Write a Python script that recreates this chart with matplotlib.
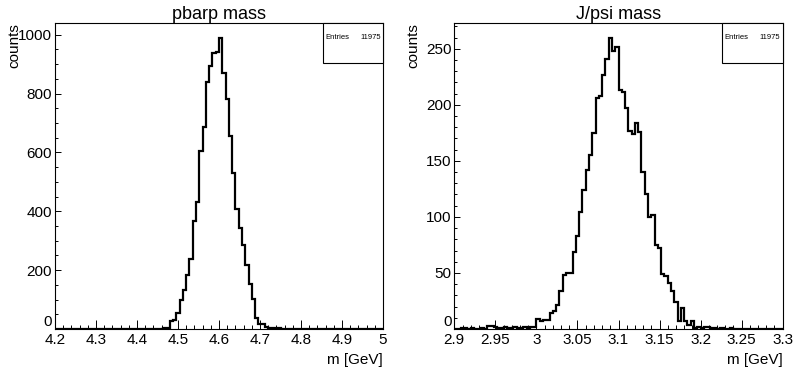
# coding=utf-8
'''
   pbarp / J/psi mass histograms (ROOT style)
'''
import matplotlib.pyplot as plt
import numpy as np
from matplotlib.ticker import MultipleLocator, FormatStrFormatter
from matplotlib.patches import Rectangle

# histogram data: 100 bins each
pbarp_range = (4.2, 5.0)
pbarp_counts = [
    0, 0, 0, 0, 0, 0, 0, 0, 0, 0,
    0, 0, 0, 0, 0, 0, 0, 0, 0, 0,
    0, 0, 0, 0, 0, 0, 0, 0, 0, 0,
    0, 1, 1, 2, 3, 27, 30, 56, 98, 132,
    185, 239, 366, 430, 605, 686, 839, 895, 937, 940,
    990, 869, 781, 655, 531, 408, 343, 284, 219, 153,
    101, 36, 16, 16, 8, 3, 2, 1, 2, 1,
    0, 1, 0, 0, 0, 0, 0, 0, 0, 0,
    0, 0, 0, 0, 0, 0, 0, 0, 0, 0,
    0, 0, 0, 0, 0, 0, 0, 0, 0, 0,
]

jpsi_range = (2.9, 3.3)
jpsi_counts = [
    0, 0, 1, 1, 0, 1, 0, 0, 1, 0,
    3, 3, 2, 1, 1, 2, 1, 1, 2, 1,
    1, 2, 1, 2, 2, 9, 7, 8, 8, 14,
    16, 21, 34, 48, 50, 50, 69, 83, 104, 124,
    142, 155, 175, 206, 208, 227, 241, 260, 248, 252,
    213, 211, 197, 177, 174, 184, 176, 140, 120, 100,
    102, 75, 72, 49, 47, 41, 34, 24, 7, 19,
    7, 4, 7, 1, 2, 1, 2, 2, 1, 1,
    0, 1, 0, 0, 1, 0, 0, 0, 0, 0,
    0, 0, 0, 0, 0, 0, 0, 0, 0, 0,
]

titles = ['pbarp mass', 'J/psi mass']
entries = 11975

plt.rcParams['font.family'] = ['Liberation Sans', 'DejaVu Sans']

fig = plt.figure(figsize=(7.98, 3.76), dpi=100)
ax1 = fig.add_axes([55 / 798, 47 / 376, 328 / 798, 306 / 376])
ax2 = fig.add_axes([454.3 / 798, 47 / 376, 328.4 / 798, 306 / 376])

setup = [
    (ax1, pbarp_counts, pbarp_range, 0.1, 0.02, 200, 50, 1040),
    (ax2, jpsi_counts, jpsi_range, 0.05, 0.01, 50, 10, 273),
]

for i, (ax, counts, rng, xmaj, xmin, ymaj, ymin, ytop) in enumerate(setup):
    edges = np.linspace(rng[0], rng[1], len(counts) + 1)
    ax.stairs(counts, edges, color='black', linewidth=1.6)
    ax.set_xlim(rng)
    ax.set_ylim(0, ytop)

    ax.xaxis.set_major_locator(MultipleLocator(xmaj))
    ax.xaxis.set_minor_locator(MultipleLocator(xmin))
    ax.yaxis.set_major_locator(MultipleLocator(ymaj))
    ax.yaxis.set_minor_locator(MultipleLocator(ymin))
    ax.xaxis.set_major_formatter(FormatStrFormatter('%g'))

    # ROOT style: ticks inside, only on bottom/left
    ax.tick_params(axis='x', which='major', direction='in', length=6.5, width=0.7,
                   labelsize=11, pad=3, top=False)
    ax.tick_params(axis='x', which='minor', direction='in', length=3.2, width=0.7, top=False)
    ax.tick_params(axis='y', which='major', direction='in', length=4.3, width=0.7,
                   labelsize=11, pad=2, right=False)
    ax.tick_params(axis='y', which='minor', direction='in', length=2.2, width=0.7, right=False)
    for s in ax.spines.values():
        s.set_linewidth(0.8)

    ax.set_title(titles[i], fontsize=13, pad=2)
    ax.set_xlabel('m [GeV]', fontsize=11, loc='right', labelpad=4)
    ax.set_ylabel('counts', fontsize=11, loc='top')
    ax.yaxis.set_label_coords(-0.102, 1.0)

    # stats box
    ax.add_patch(Rectangle((0.816, 0.868), 0.184, 0.132, transform=ax.transAxes,
                           facecolor='white', edgecolor='black', linewidth=0.8,
                           clip_on=False, zorder=5))
    ax.text(0.823, 0.954, 'Entries', transform=ax.transAxes, fontsize=5.5,
            ha='left', va='center', zorder=6)
    ax.text(0.993, 0.954, str(entries), transform=ax.transAxes, fontsize=5.5,
            ha='right', va='center', zorder=6)

# lift the "0" label a bit so it sits just above the x labels
fig.canvas.draw()
for ax in (ax1, ax2):
    for tick in ax.yaxis.get_major_ticks():
        if tick.label1.get_text() == '0':
            tick.label1.set_va('bottom')

plt.savefig('out.png', dpi=100)
